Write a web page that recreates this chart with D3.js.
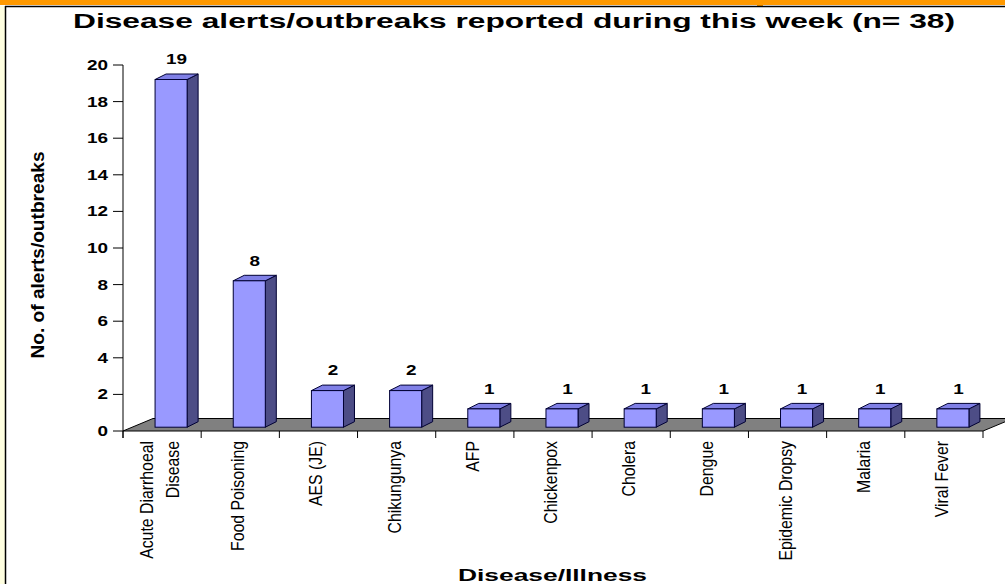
<!DOCTYPE html>
<html><head><meta charset="utf-8">
<script src="https://cdn.jsdelivr.net/npm/d3@7"></script>
<style>body{margin:0;background:#fff}svg{display:block}text{font-family:"Liberation Sans",Arial,sans-serif;fill:#000}</style>
</head><body>
<script>
const categories = ["Acute Diarrhoeal\nDisease", "Food Poisoning", "AES (JE)", "Chikungunya", "AFP", "Chickenpox", "Cholera", "Dengue", "Epidemic Dropsy", "Malaria", "Viral Fever"];
const values = [19, 8, 2, 2, 1, 1, 1, 1, 1, 1, 1];
const yTicks = [0, 2, 4, 6, 8, 10, 12, 14, 16, 18, 20];
const titleText = "Disease alerts/outbreaks reported during this week (n= 38)";
const yTitle = "No. of alerts/outbreaks";
const xTitle = "Disease/Illness";

const W = 1005, H = 584;
const svg = d3.select("body").append("svg").attr("width", W).attr("height", H);

// frame
svg.append("rect").attr("x",0).attr("y",0).attr("width",W).attr("height",H).attr("fill","#fff");
svg.append("rect").attr("x",0).attr("y",6).attr("width",5).attr("height",H).attr("fill","#ffffe0");
svg.append("rect").attr("x",0).attr("y",0).attr("width",W).attr("height",5).attr("fill","#ff9900");
svg.append("rect").attr("x",757).attr("y",0).attr("width",6).attr("height",7).attr("fill","#ff9900");
svg.append("line").attr("x1",5).attr("x2",W).attr("y1",6.5).attr("y2",6.5).attr("stroke","#000").attr("stroke-width",1.5);
svg.append("line").attr("x1",5.5).attr("x2",5.5).attr("y1",6).attr("y2",H).attr("stroke","#000").attr("stroke-width",1.5);

const x = d3.scaleBand().domain(categories).range([123, 983]).paddingInner(0).paddingOuter(0);
const y = d3.scaleLinear().domain([0, 20]).range([431, 65]);

// depth
const floorD = [30, -12.5];
const off = [9, -3.8];
const bd = [11, -5.5];
const barW = x.bandwidth() * 0.41;

// floor
const f0 = y(0);
svg.append("polygon")
  .attr("points", [[123, f0],[983, f0],[983+floorD[0], f0+floorD[1]],[123+floorD[0], f0+floorD[1]]].map(p=>p.join(",")).join(" "))
  .attr("fill", "#808080").attr("stroke", "#000").attr("stroke-width", 1);

// bars
const g = svg.append("g");
categories.forEach((c, i) => {
  const v = values[i];
  const cx = x(c) + x.bandwidth()/2;
  const x0 = cx - barW/2 + off[0], x1 = cx + barW/2 + off[0];
  const yt = y(v) + off[1], yb = y(0) + off[1];
  const pts = a => a.map(p=>p.join(",")).join(" ");
  g.append("polygon").attr("points", pts([[x1,yt],[x1+bd[0],yt+bd[1]],[x1+bd[0],yb+bd[1]],[x1,yb]]))
    .attr("fill","#4d4d86").attr("stroke","#000033").attr("stroke-width",1);
  g.append("polygon").attr("points", pts([[x0,yt],[x0+bd[0],yt+bd[1]],[x1+bd[0],yt+bd[1]],[x1,yt]]))
    .attr("fill","#8080e6").attr("stroke","#000033").attr("stroke-width",1);
  g.append("rect").attr("x",x0).attr("y",yt).attr("width",x1-x0).attr("height",yb-yt)
    .attr("fill","#9999ff").attr("stroke","#000033").attr("stroke-width",1);
  // data label
  g.append("text").attr("transform",`translate(${cx + off[0] + bd[0]/2},${y(v) - 19}) scale(1.35,1)`)
    .attr("text-anchor","middle").attr("font-size",14).attr("font-weight","bold").text(v);
});

// y axis
svg.append("line").attr("x1",123).attr("x2",123).attr("y1",y(20)).attr("y2",438).attr("stroke","#000").attr("stroke-width",1);
yTicks.forEach(t => {
  svg.append("line").attr("x1",113).attr("x2",123).attr("y1",y(t)).attr("y2",y(t)).attr("stroke","#000");
  svg.append("text").attr("transform",`translate(108,${y(t)+5}) scale(1.35,1)`)
    .attr("text-anchor","end").attr("font-size",14).attr("font-weight","bold").text(t);
});

// x ticks
d3.range(categories.length + 1).forEach(i => {
  const xx = 123 + i * x.bandwidth();
  svg.append("line").attr("x1",xx).attr("x2",xx).attr("y1",431).attr("y2",438).attr("stroke","#000");
});

// x labels
categories.forEach(c => {
  const cx = x(c) + x.bandwidth()/2;
  const lines = c.split("\n");
  const n = lines.length;
  lines.forEach((ln, i) => {
    const bx = cx + 4 + (i - (n-1)/2) * 26.7;
    svg.append("text").attr("transform",`translate(${bx},441) rotate(-90) scale(0.88,1)`)
      .attr("text-anchor","end").attr("font-size",18).text(ln);
  });
});

// titles
svg.append("text").attr("x",514).attr("y",28.3).attr("text-anchor","middle")
  .attr("font-size",20).attr("font-weight","bold")
  .attr("textLength",882).attr("lengthAdjust","spacingAndGlyphs").text(titleText);
svg.append("text").attr("transform","translate(44,255) rotate(-90)").attr("text-anchor","middle")
  .attr("font-size",18).attr("font-weight","bold")
  .attr("textLength",207).attr("lengthAdjust","spacingAndGlyphs").text(yTitle);
svg.append("text").attr("x",552.5).attr("y",581).attr("text-anchor","middle")
  .attr("font-size",17).attr("font-weight","bold")
  .attr("textLength",189).attr("lengthAdjust","spacingAndGlyphs").text(xTitle);
</script>
</body></html>
